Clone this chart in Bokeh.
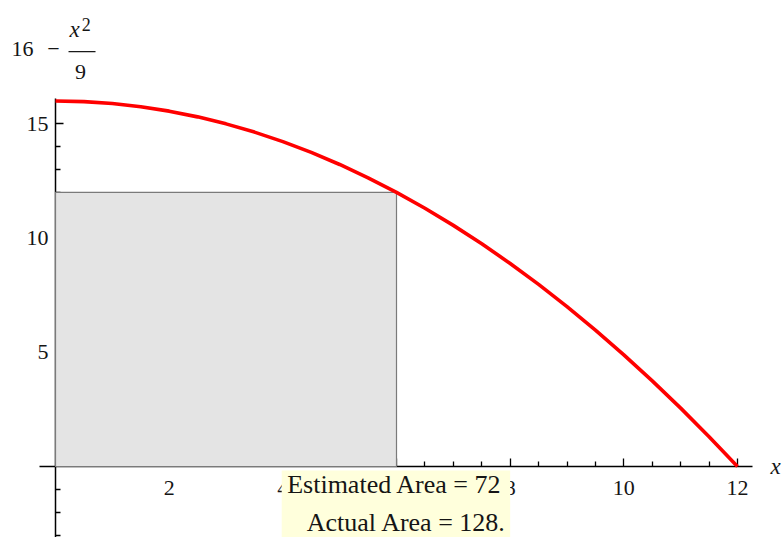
from bokeh.plotting import figure
from bokeh.models import Range1d, LinearAxis, FixedTicker, Label, BoxAnnotation, ColumnDataSource
from bokeh.embed import file_html
from bokeh.resources import INLINE

# ---- data ----
curve_x = [0, 0.5, 1, 1.5, 2, 2.5, 3, 3.5, 4, 4.5, 5, 5.5, 6,
           6.5, 7, 7.5, 8, 8.5, 9, 9.5, 10, 10.5, 11, 11.5, 12]
curve_y = [16.0, 15.972, 15.889, 15.75, 15.556, 15.306, 15.0, 14.639, 14.222, 13.75, 13.222, 12.639, 12.0,
           11.306, 10.556, 9.75, 8.889, 7.972, 7.0, 5.972, 4.889, 3.75, 2.556, 1.306, 0.0]

rect_left = [0]
rect_right = [6]
rect_bottom = [0]
rect_top = [12]

x_major_ticks = [2, 4, 6, 8, 10, 12]
x_minor_ticks = [0.5, 1, 1.5, 2.5, 3, 3.5, 4.5, 5, 5.5, 6.5, 7, 7.5, 8.5, 9, 9.5, 10.5, 11, 11.5]
y_major_ticks = [5, 10, 15]
y_minor_ticks = [-3, -2, -1, 1, 2, 3, 4, 6, 7, 8, 9, 11, 12, 13, 14]

estimated_text = "Estimated Area = 72"
actual_text = "Actual Area = 128."

SERIF = "Liberation Serif"
TXT = "#151515"

p = figure(width=784, height=537, output_backend="svg", toolbar_location=None,
           x_range=Range1d(-0.968, 12.827), y_range=Range1d(-3.108, 20.40),
           x_axis_type=None, y_axis_type=None, min_border=0,
           background_fill_color="white", border_fill_color="white", outline_line_color=None)
p.grid.visible = False

def style_axis(ax):
    ax.axis_line_color = "black"
    ax.axis_line_width = 1.5
    ax.major_tick_line_color = "black"
    ax.minor_tick_line_color = "black"
    ax.major_tick_line_width = 1.3
    ax.minor_tick_line_width = 1.3
    ax.major_tick_in = 8
    ax.major_tick_out = 0
    ax.minor_tick_in = 5
    ax.minor_tick_out = 0
    ax.major_label_text_font = SERIF
    ax.major_label_text_font_size = "22px"
    ax.major_label_text_color = TXT

xaxis = LinearAxis(fixed_location=0, ticker=FixedTicker(ticks=x_major_ticks, minor_ticks=x_minor_ticks),
                   bounds=(-0.28, 12.26))
style_axis(xaxis)
xaxis.major_label_standoff = 14
p.add_layout(xaxis, "below")

yaxis = LinearAxis(fixed_location=0, ticker=FixedTicker(ticks=y_major_ticks, minor_ticks=y_minor_ticks),
                   bounds=(-3.108, 16.1))
style_axis(yaxis)
yaxis.major_label_standoff = 7
p.add_layout(yaxis, "left")

rect_src = ColumnDataSource(dict(left=rect_left, right=rect_right, bottom=rect_bottom, top=rect_top))
r1 = p.quad(left="left", right="right", bottom="bottom", top="top", source=rect_src,
            fill_color="#e4e4e4", line_color="#7a7a7a", line_width=1.2)
r1.level = "overlay"

r2 = p.line(curve_x, curve_y, line_color="#ff0000", line_width=3.6)
r2.level = "overlay"

def lab(x, y, text, size, align="center", italic=False):
    p.add_layout(Label(x=x, y=y, text=text, text_align=align, text_baseline="alphabetic",
                       text_font=SERIF, text_font_style="italic" if italic else "normal",
                       text_font_size=size, text_color=TXT))

# y label: 16 - x^2/9
lab(-0.774, 18.28, "16", "22px", align="left")
lab(-0.035, 18.28, "\u2212", "22px")
lab(0.334, 19.15, "x", "23px", italic=True)
lab(0.54, 19.33, "2", "18px")
p.add_layout(BoxAnnotation(left=0.229, right=0.704, bottom=18.13, top=18.19,
                           fill_color="#1a1a1a", fill_alpha=1, line_alpha=0))
lab(0.44, 17.27, "9", "22px")

# x label
lab(12.67, -0.02, "x", "23px", italic=True)

# area box
p.add_layout(BoxAnnotation(left=3.98, right=8.0, bottom=-3.108, top=-0.17,
                           fill_color="#ffffdc", fill_alpha=1, line_alpha=0))
lab(5.965, -0.766, estimated_text, "26px")
lab(6.176, -2.473, actual_text, "26px")

open("out.html", "w").write(file_html(p, INLINE))
